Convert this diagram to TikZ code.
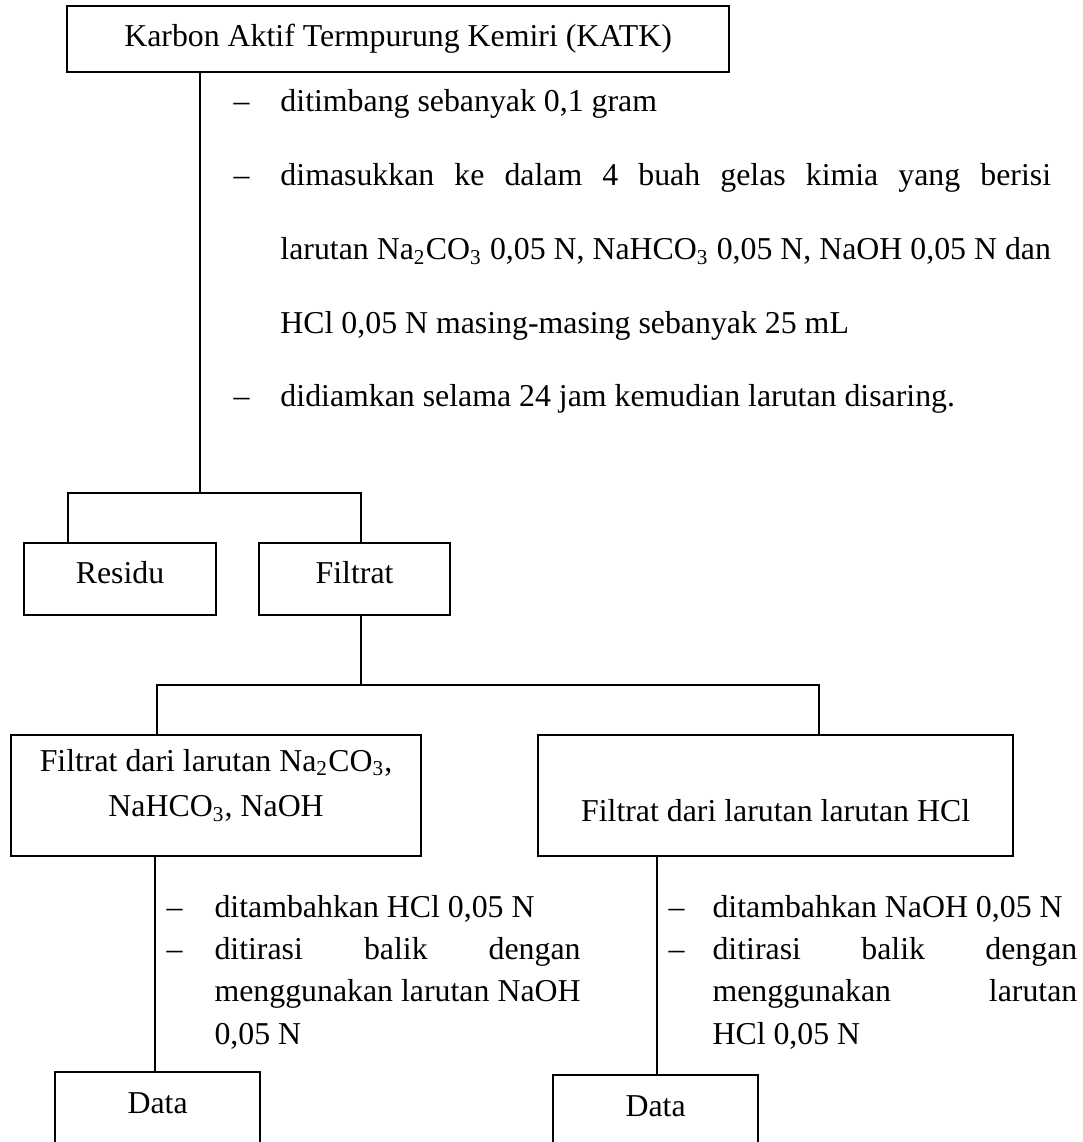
\documentclass[tikz,border=0pt]{standalone}
\usepackage{fontspec}
\setmainfont{Liberation Serif}

\tikzset{
 kotak/.style={draw,line width=.8pt,inner xsep=0pt,inner ysep=0pt,anchor=north west},
 garis/.style={line width=.8pt},
 teks/.style={inner sep=0pt,anchor=base west,align=justify}
}

\begin{document}
\begin{tikzpicture}[x=.377pt,y=-.377pt,font=\fontsize{12}{14}\selectfont]
 \useasboundingbox (0,0) rectangle (1083,1142);
 \clip (0,0) rectangle (1083,1142);
 % kotak-kotak
 \node[kotak,minimum width=249.6pt,text height=15.1pt,text depth=9.8pt] (katk) at (66,5) {Karbon Aktif Termpurung Kemiri (KATK)};
 \node[kotak,minimum width=72.4pt,text height=15.1pt,text depth=12.1pt] (residu) at (23,542) {Residu};
 \node[kotak,minimum width=72pt,text height=15.1pt,text depth=12.1pt] (filtrat) at (258,542) {Filtrat};
 \node[kotak,align=justify,text width=154.6pt,text height=13.6pt,text depth=32pt,font=\fontsize{12}{17}\selectfont] (basa) at (10,734) {\centering Filtrat dari larutan Na\textsubscript{2}CO\textsubscript{3},\\NaHCO\textsubscript{3}, NaOH\par};
 \node[kotak,minimum width=179.1pt,text height=32.4pt,text depth=13.2pt] (asam) at (537,734) {Filtrat dari larutan larutan HCl};
 \node[kotak,minimum width=77.3pt,text height=15.5pt,text depth=29.8pt] (dataA) at (54,1071) {Data};
 \node[kotak,minimum width=77.3pt,text height=15.5pt,text depth=29.8pt] (dataB) at (552,1074) {Data};
 % garis penghubung
 \coordinate (a1) at (200,493);
 \coordinate (a2) at (68,493);
 \coordinate (a3) at (361,493);
 \draw[garis] (katk.south -| a1) -- (a1);
 \draw[garis] (residu.north -| a2) -- (a2) -- (a3) -- (filtrat.north -| a3);
 \coordinate (b1) at (361,685);
 \coordinate (b2) at (157,685);
 \coordinate (b3) at (819,685);
 \draw[garis] (filtrat.south -| b1) -- (b1);
 \draw[garis] (basa.north -| b2) -- (b2) -- (b3) -- (asam.north -| b3);
 \coordinate (c1) at (155,1071);
 \coordinate (c2) at (657,1074);
 \draw[garis] (basa.south -| c1) -- (c1);
 \draw[garis] (asam.south -| c2) -- (c2);
 % keterangan langkah
 \node[teks,text width=310pt,font=\fontsize{12}{27.8}\selectfont] (langkah) at (233,112) {\makebox[17.7pt][l]{--}ditimbang sebanyak 0,1 gram\\
  \makebox[17.7pt][l]{--}\makebox[290.5pt][s]{dimasukkan ke dalam 4 buah gelas kimia yang berisi}\\
  \hspace*{17.7pt}\makebox[290.5pt][s]{larutan Na\textsubscript{2}CO\textsubscript{3} 0,05 N, NaHCO\textsubscript{3} 0,05 N, NaOH 0,05 N dan}\\
  \hspace*{17.7pt}HCl 0,05 N masing-masing sebanyak 25 mL\\
  \makebox[17.7pt][l]{--}didiamkan selama 24 jam kemudian larutan disaring.};
 \node[teks,text width=160pt,font=\fontsize{12}{16}\selectfont] (langkahA) at (166,917) {\makebox[18.1pt][l]{--}ditambahkan HCl 0,05 N\\
  \makebox[18.1pt][l]{--}\makebox[138pt][s]{ditirasi balik dengan}\\
  \hspace*{18.1pt}\makebox[138pt][s]{menggunakan larutan NaOH}\\
  \hspace*{18.1pt}0,05 N};
 \node[teks,text width=160pt,font=\fontsize{12}{16}\selectfont] (langkahB) at (668,917) {\makebox[16.6pt][l]{--}ditambahkan NaOH 0,05 N\\
  \makebox[16.6pt][l]{--}\makebox[137.5pt][s]{ditirasi balik dengan}\\
  \hspace*{16.6pt}\makebox[137.5pt][s]{menggunakan larutan}\\
  \hspace*{16.6pt}HCl 0,05 N};
\end{tikzpicture}
\end{document}
